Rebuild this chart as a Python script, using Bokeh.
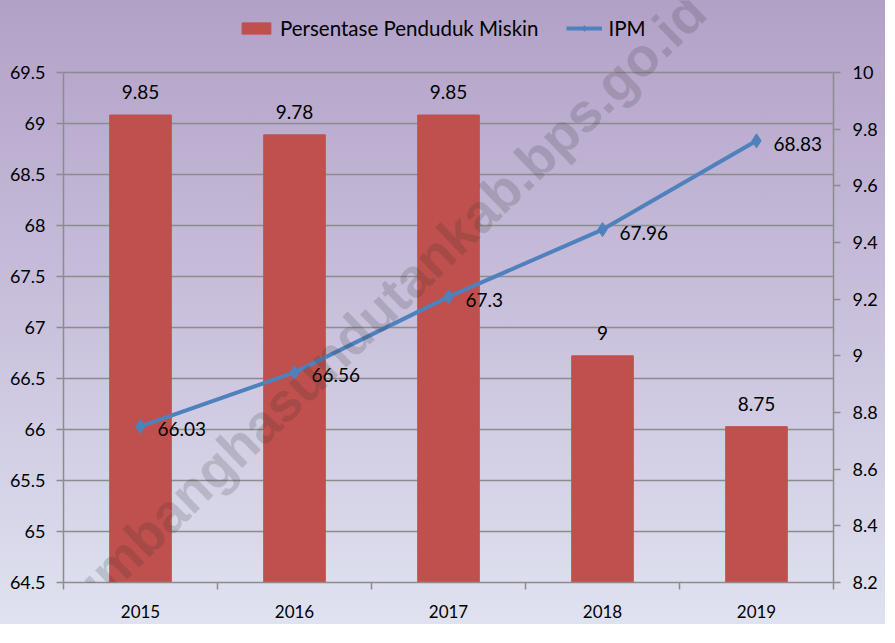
from bokeh.plotting import figure
from bokeh.models import (ColumnDataSource, Range1d, LinearAxis, FixedTicker,
                          CustomJSTickFormatter, Legend, LegendItem, Label)
from bokeh.core.properties import value
from bokeh.embed import file_html
from bokeh.resources import INLINE

# ---- data ----
years = ["2015", "2016", "2017", "2018", "2019"]
poverty_pct = [9.85, 9.78, 9.85, 9.00, 8.75]     # right axis (bars)
ipm = [66.03, 66.56, 67.30, 67.96, 68.83]        # left axis (line)
left_ticks = [64.5, 65, 65.5, 66, 66.5, 67, 67.5, 68, 68.5, 69, 69.5]
right_ticks = [8.2, 8.4, 8.6, 8.8, 9.0, 9.2, 9.4, 9.6, 9.8, 10.0]
watermark = "https://humbanghasundutankab.bps.go.id"

FONT = "Lato"
BAR_C = "#c0504d"
LINE_C = "#4f81bd"
GRID_C = "#8c8c8c"

# layout: the axis area is 510 px tall; 72 px of headroom above it holds the legend
AXIS_H, HEAD = 510, 72
lmin, lmax = left_ticks[0], left_ticks[-1]
rmin, rmax = right_ticks[0], right_ticks[-1]
l_top = lmax + (lmax - lmin) * HEAD / AXIS_H
r_top = rmax + (rmax - rmin) * HEAD / AXIS_H

xpos = [i + 0.5 for i in range(len(years))]
src = ColumnDataSource(dict(
    x=xpos, pct=poverty_pct, ipm=ipm,
    pct_lbl=[f"{v:g}" for v in poverty_pct],
    ipm_lbl=[f"{v:g}" for v in ipm],
))

p = figure(frame_width=770, frame_height=AXIS_H + HEAD, output_backend="svg",
           toolbar_location=None,
           x_range=Range1d(0, len(years)), y_range=Range1d(lmin, l_top),
           min_border_left=63, min_border_right=52, min_border_top=0,
           min_border_bottom=42)
p.extra_y_ranges = {"right": Range1d(rmin, r_top)}
p.border_fill_color = None
p.background_fill_color = None
p.outline_line_color = None
p.styles = {"background-image": "linear-gradient(to bottom, #b2a1c7 0%, #c9c0dc 50%, #dfe2f0 100%)"}

# bars
bars = p.vbar(x="x", top="pct", bottom=rmin, width=0.4, source=src,
              y_range_name="right", fill_color=BAR_C, line_color=BAR_C)
# line
ln = p.line(x="x", y="ipm", source=src, line_color=LINE_C, line_width=4)
mk = p.scatter(x="x", y="ipm", source=src, marker="diamond", size=14,
               fill_color=LINE_C, line_color=LINE_C)

# data labels
p.text(x="x", y="pct", text="pct_lbl", source=src, y_range_name="right",
       text_align="center", text_baseline="alphabetic", y_offset=-23,
       text_font=value(FONT), text_font_size="19px", text_color="black")
p.text(x="x", y="ipm", text="ipm_lbl", source=src,
       text_align="left", text_baseline="middle", x_offset=17, y_offset=3,
       text_font=value(FONT), text_font_size="19px", text_color="black")

# axes
xa = p.xaxis[0]
xa.ticker = FixedTicker(ticks=xpos, minor_ticks=list(range(len(years) + 1)))
xa.formatter = CustomJSTickFormatter(args=dict(years=years),
                                     code="return years[Math.floor(tick)]")
xa.major_tick_line_color = None
xa.minor_tick_line_color = GRID_C
xa.minor_tick_line_width = 1.5
xa.minor_tick_out = 7
xa.minor_tick_in = 0
xa.axis_line_color = GRID_C
xa.axis_line_width = 1.5
xa.major_label_text_font = FONT
xa.major_label_text_font_size = "17px"
xa.major_label_text_color = "black"
xa.major_label_standoff = 15

fmt = "return (Math.round(tick*100)/100).toString()"
ya = p.yaxis[0]
ya.ticker = FixedTicker(ticks=left_ticks)
ya.formatter = CustomJSTickFormatter(code=fmt)
ya.bounds = (lmin, lmax)
ya.minor_tick_line_color = None
ya.major_tick_line_color = GRID_C
ya.major_tick_line_width = 1.5
ya.major_tick_out = 7
ya.major_tick_in = 0
ya.axis_line_color = GRID_C
ya.axis_line_width = 1.5
ya.major_label_text_font = FONT
ya.major_label_text_font_size = "18px"
ya.major_label_text_color = "black"
ya.major_label_standoff = 11

ra = LinearAxis(y_range_name="right", ticker=FixedTicker(ticks=right_ticks),
                formatter=CustomJSTickFormatter(code=fmt), bounds=(rmin, rmax))
ra.minor_tick_line_color = None
ra.major_tick_line_color = GRID_C
ra.major_tick_line_width = 1.5
ra.major_tick_out = 7
ra.major_tick_in = 0
ra.axis_line_color = GRID_C
ra.axis_line_width = 1.5
ra.major_label_text_font = FONT
ra.major_label_text_font_size = "18px"
ra.major_label_text_color = "black"
ra.major_label_standoff = 12
p.add_layout(ra, "right")

p.xgrid.visible = False
p.ygrid.ticker = FixedTicker(ticks=left_ticks)
p.ygrid.bounds = (lmin, lmax)
p.ygrid.grid_line_color = GRID_C
p.ygrid.grid_line_width = 1.5

# legend (in the headroom above the axes)
legend = Legend(items=[
    LegendItem(label="Persentase Penduduk Miskin", renderers=[bars]),
    LegendItem(label="IPM", renderers=[ln, mk]),
], location=(175, 542), orientation="horizontal",
    glyph_width=36, glyph_height=14, label_standoff=6, spacing=28,
    padding=0, margin=0, border_line_color=None, background_fill_alpha=0,
    label_text_font=FONT, label_text_font_size="20.5px",
    label_text_color="black", label_height=14)
p.add_layout(legend, "center")

# watermark
wm = Label(x=246, y=206, x_units="screen", y_units="screen", text=watermark,
           angle=44, angle_units="deg", text_align="center",
           text_baseline="middle", text_font="Liberation Sans",
           text_font_style="bold", text_font_size="54px",
           text_color="#303030", text_alpha=0.18, level="overlay")
p.add_layout(wm)

open("out.html", "w").write(file_html(p, INLINE))
